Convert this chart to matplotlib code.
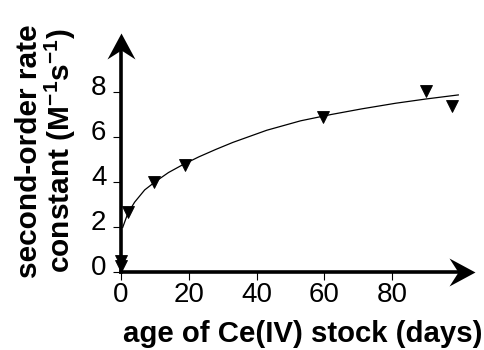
import matplotlib
matplotlib.use("Agg")
import matplotlib.pyplot as plt
from matplotlib.path import Path
from matplotlib.markers import MarkerStyle
import matplotlib.transforms as mtransforms

# ---- data ----
days = [0, 0, 2.0, 9.8, 18.8, 59.7, 89.9, 97.7]
rate = [0.5, 0.25, 2.65, 4.0, 4.75, 6.88, 8.06, 7.4]

fit_days = [0.5, 2, 4, 7, 10, 14, 18, 23, 28, 33, 43, 53, 62, 71, 81, 90, 99.5]
fit_rate = [1.98, 2.6, 3.1, 3.65, 4.0, 4.42, 4.75, 5.12, 5.45, 5.76, 6.3,
            6.72, 7.0, 7.25, 7.5, 7.69, 7.87]

x_ticks = [0, 20, 40, 60, 80]
y_ticks = [0, 2, 4, 6, 8]
x_label = "age of Ce(IV) stock (days)"
y_label_1 = "second-order rate"
y_label_2 = r"constant (M$^{-1}$s$^{-1}$)"

# ---- style ----
plt.rcParams["font.family"] = ["Liberation Sans", "DejaVu Sans"]
plt.rcParams["mathtext.fontset"] = "custom"
plt.rcParams["mathtext.rm"] = "Liberation Sans:bold"
plt.rcParams["mathtext.default"] = "rm"

W, H = 484, 350
fig = plt.figure(figsize=(W / 100, H / 100), dpi=100)

x0px, xs = 121.0, 3.39
y0px, ys = 272.0, 22.5
xlim = (-5, 107)
ylim = (-1, 11)
left = (x0px + xlim[0] * xs) / W
width = (xlim[1] - xlim[0]) * xs / W
bottom = (H - (y0px - ylim[0] * ys)) / H
height = (ylim[1] - ylim[0]) * ys / H
ax = fig.add_axes([left, bottom, width, height])
ax.set_xlim(*xlim)
ax.set_ylim(*ylim)
ax.patch.set_visible(False)

x_tip = 104.4
y_tip = 10.62
for s in ("top", "right"):
    ax.spines[s].set_visible(False)
for s in ("left", "bottom"):
    ax.spines[s].set_position(("data", 0))
    ax.spines[s].set_linewidth(2.6)
    ax.spines[s].set_capstyle("projecting")
ax.spines["bottom"].set_bounds(0, x_tip - 2)
ax.spines["left"].set_bounds(0, y_tip - 0.5)

# arrowheads
xa = [(0, 0), (-26, 14), (-17, 0), (-26, -14), (0, 0)]
ya = [(0, 0), (-14, -26), (0, -17), (14, -26), (0, 0)]
codes = [Path.MOVETO, Path.LINETO, Path.LINETO, Path.LINETO, Path.CLOSEPOLY]
ms = 26 * 2 * 0.72
ax.plot([x_tip], [0], marker=MarkerStyle(Path(xa, codes)), ms=ms, color="k",
        mew=0, clip_on=False, zorder=5)
ax.plot([0], [y_tip], marker=MarkerStyle(Path(ya, codes)), ms=ms, color="k",
        mew=0, clip_on=False, zorder=5)

ax.set_xticks(x_ticks)
ax.set_yticks(y_ticks)
ax.tick_params(axis="both", direction="out", length=5.5, width=0.8,
               color="k", labelsize=20)
ax.tick_params(axis="x", pad=2.0)
ax.tick_params(axis="y", pad=5.0)
off = mtransforms.ScaledTranslation(0, 7 / 100, fig.dpi_scale_trans)
for lab in ax.get_yticklabels():
    lab.set_transform(lab.get_transform() + off)

# fit curve + data
ax.plot(fit_days, fit_rate, color="k", lw=0.9, zorder=3, clip_on=False)
ax.plot(days, rate, linestyle="none", marker="v", ms=8.5, color="k",
        mew=0.6, zorder=4, clip_on=False)

# labels
fig.text(302.5 / W, (H - 341.7) / H, x_label, ha="center", va="baseline",
         fontsize=21.2, fontweight="bold")
fig.text(36.7 / W, (H - 151) / H, y_label_1, rotation=90, rotation_mode="anchor",
         ha="center", va="baseline", fontsize=21.5, fontweight="bold")
fig.text(70 / W, (H - 151) / H, y_label_2, rotation=90, rotation_mode="anchor",
         ha="center", va="baseline", fontsize=21.5, fontweight="bold")

fig.savefig("out.png", dpi=100)
